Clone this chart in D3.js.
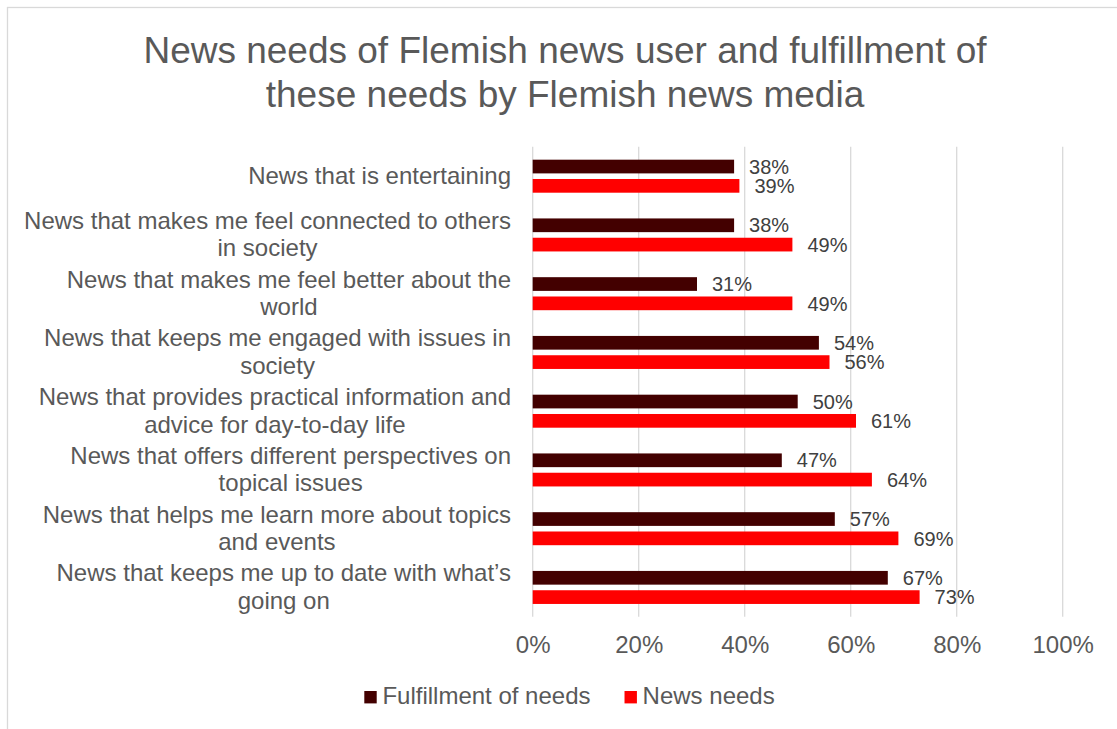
<!DOCTYPE html>
<html>
<head>
<meta charset="utf-8">
<script src="https://cdn.jsdelivr.net/npm/d3@7"></script>
<style>
  html, body { margin: 0; padding: 0; background: #ffffff; }
  svg { display: block; font-family: "Liberation Sans", Arial, Helvetica, sans-serif; }
</style>
</head>
<body>
<svg id="chart" width="1117" height="729"></svg>
<script>
// Survey items, top to bottom
const categories = [
  "News that is entertaining",
  "News that makes me feel connected to others in society",
  "News that makes me feel better about the world",
  "News that keeps me engaged with issues in society",
  "News that provides practical information and advice for day-to-day life",
  "News that offers different perspectives on topical issues",
  "News that helps me learn more about topics and events",
  "News that keeps me up to date with what\u2019s going on"
];
const seriesNames = ["Fulfillment of needs", "News needs"];
const fulfillment = [38, 38, 31, 54, 50, 47, 57, 67];
const newsNeeds = [39, 49, 49, 56, 61, 64, 69, 73];
const tickValues = [0, 20, 40, 60, 80, 100];
const titleLines = [
  "News needs of Flemish news user and fulfillment of",
  "these needs by Flemish news media"
];

const colors = ["#430000", "#ff0000"];
const textGray = "#595959";
const labelGray = "#404040";
const gridGray = "#d9d9d9";

const svg = d3.select("#chart");
const W = 1117, H = 729;

// Chart area frame
svg.append("rect")
  .attr("x", 7.5).attr("y", 7.5)
  .attr("width", W + 20).attr("height", H + 20)
  .attr("fill", "#ffffff")
  .attr("stroke", gridGray).attr("stroke-width", 1.3);

// Title
svg.append("text")
  .attr("x", 565).attr("text-anchor", "middle")
  .attr("font-size", 37).attr("fill", textGray)
  .selectAll("tspan").data(titleLines).join("tspan")
  .attr("x", 565)
  .attr("y", (d, i) => 63.3 + i * 43.4)
  .text(d => d);

// Scales
const plot = { left: 532.7, right: 1062.7, top: 146.7, bottom: 616.7 };
const x = d3.scaleLinear().domain([0, 100]).range([plot.left, plot.right]);
const y = d3.scaleBand().domain(categories).range([plot.top, plot.bottom]).padding(0);
const inner = d3.scaleBand().domain(seriesNames)
  .range([y.bandwidth() * 0.221, y.bandwidth() * 0.783])
  .paddingInner(0.29).paddingOuter(0);

// Vertical gridlines
svg.append("g")
  .selectAll("line").data(tickValues).join("line")
  .attr("x1", d => x(d)).attr("x2", d => x(d))
  .attr("y1", plot.top).attr("y2", plot.bottom)
  .attr("stroke", gridGray).attr("stroke-width", 1.3);

// Value axis labels
const xAxis = d3.axisBottom(x).tickValues(tickValues).tickFormat(d => d + "%").tickSize(0).tickPadding(0);
const axisG = svg.append("g").attr("transform", `translate(0, ${plot.bottom})`).call(xAxis);
axisG.select(".domain").remove();
axisG.selectAll("text")
  .attr("font-family", "inherit")
  .attr("font-size", 24).attr("fill", textGray)
  .attr("y", 36.5).attr("dy", null);

// Bars and data labels
const rows = categories.map((c, i) => ({
  category: c,
  values: [
    { series: seriesNames[0], value: fulfillment[i] },
    { series: seriesNames[1], value: newsNeeds[i] }
  ]
}));

const groups = svg.append("g").selectAll("g").data(rows).join("g")
  .attr("transform", d => `translate(0, ${y(d.category)})`);

groups.selectAll("rect").data(d => d.values).join("rect")
  .attr("x", x(0))
  .attr("y", d => inner(d.series))
  .attr("width", d => x(d.value) - x(0))
  .attr("height", inner.bandwidth())
  .attr("fill", (d, i) => colors[i]);

groups.selectAll("text.value").data(d => d.values).join("text")
  .attr("class", "value")
  .attr("x", d => x(d.value) + 15)
  .attr("y", d => inner(d.series) + inner.bandwidth() / 2)
  .attr("dy", "0.36em")
  .attr("font-size", 20).attr("fill", labelGray)
  .text(d => d.value + "%");

// Category labels: wrapped, block right-aligned to the plot, lines centred in the block
const maxLabelWidth = 498;
const lineHeight = 27.6;
const labelRight = 511;
const catG = svg.append("g").attr("font-size", 24).attr("fill", textGray).attr("text-anchor", "middle");

categories.forEach(c => {
  const t = catG.append("text");
  const probe = t.append("tspan");
  const measure = s => { probe.text(s); return probe.node().getComputedTextLength(); };
  const words = c.split(" ");
  const lines = [];
  let line = [];
  words.forEach(w => {
    const attempt = line.concat(w).join(" ");
    if (measure(attempt) > maxLabelWidth && line.length) {
      lines.push(line.join(" "));
      line = [w];
    } else {
      line.push(w);
    }
  });
  if (line.length) lines.push(line.join(" "));
  const blockWidth = d3.max(lines, l => measure(l));
  probe.remove();
  const cx = labelRight - blockWidth / 2;
  const center = y(c) + y.bandwidth() / 2;
  lines.forEach((l, i) => {
    t.append("tspan")
      .attr("x", cx)
      .attr("y", center + (i - (lines.length - 1) / 2) * lineHeight + 7.8)
      .text(l);
  });
});

// Legend, centered under the plot
const legend = svg.append("g").attr("font-size", 24).attr("fill", textGray);
const sw = 12.4, swGap = 5.7, itemGap = 34;
const items = legend.selectAll("g").data(seriesNames).join("g");
items.append("rect")
  .attr("width", sw).attr("height", sw)
  .attr("y", 691)
  .attr("fill", (d, i) => colors[i]);
items.append("text")
  .attr("x", sw + swGap)
  .attr("y", 704.3)
  .text(d => d);
let widths = [];
items.each(function () {
  widths.push(sw + swGap + d3.select(this).select("text").node().getComputedTextLength());
});
const total = d3.sum(widths) + itemGap * (widths.length - 1);
let cursor = 569.5 - total / 2;
items.each(function (d, i) {
  d3.select(this).attr("transform", `translate(${cursor}, 0)`);
  cursor += widths[i] + itemGap;
});
</script>
</body>
</html>
